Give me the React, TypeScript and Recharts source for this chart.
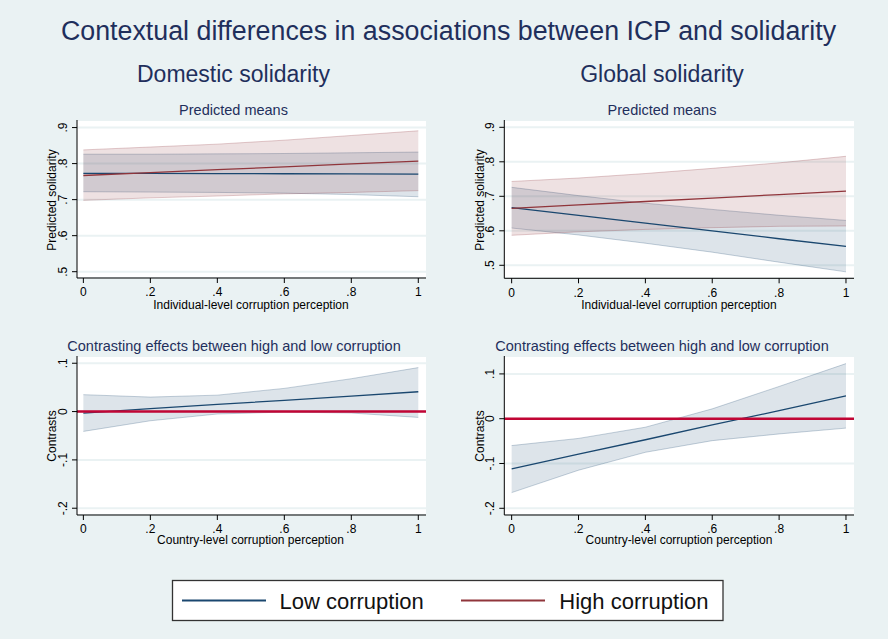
import React from 'react';
import { ComposedChart, Area, Line, XAxis, YAxis, CartesianGrid, ReferenceLine } from 'recharts';

// ---- data ----
const xValues = [0, 0.2, 0.4, 0.6, 0.8, 1];
const xTicks = [0, 0.2, 0.4, 0.6, 0.8, 1];
const meanTicks = [0.5, 0.6, 0.7, 0.8, 0.9];
const contrastTicks = [-0.2, -0.1, 0, 0.1];

// Domestic solidarity – predicted means
const domLowMean = [0.773, 0.7726, 0.7722, 0.7718, 0.7714, 0.771];
const domLowUpper = [0.826, 0.826, 0.827, 0.828, 0.83, 0.832];
const domLowLower = [0.722, 0.721, 0.72, 0.718, 0.714, 0.708];
const domHighMean = [0.767, 0.775, 0.783, 0.791, 0.799, 0.807];
const domHighUpper = [0.838, 0.846, 0.854, 0.865, 0.878, 0.891];
const domHighLower = [0.698, 0.705, 0.71, 0.716, 0.72, 0.725];

// Global solidarity – predicted means
const globLowMean = [0.667, 0.645, 0.622, 0.6, 0.577, 0.555];
const globLowUpper = [0.726, 0.702, 0.68, 0.662, 0.645, 0.63];
const globLowLower = [0.608, 0.588, 0.564, 0.538, 0.509, 0.481];
const globHighMean = [0.665, 0.675, 0.685, 0.695, 0.705, 0.715];
const globHighUpper = [0.743, 0.753, 0.766, 0.781, 0.797, 0.816];
const globHighLower = [0.587, 0.597, 0.604, 0.609, 0.613, 0.614];

// Contrasts (high - low corruption)
const domContrast = [-0.003, 0.006, 0.015, 0.023, 0.032, 0.041];
const domContrastUpper = [0.035, 0.03, 0.034, 0.048, 0.068, 0.091];
const domContrastLower = [-0.041, -0.019, -0.005, -0.001, -0.003, -0.012];
const globContrast = [-0.112, -0.079, -0.047, -0.014, 0.018, 0.051];
const globContrastUpper = [-0.06, -0.044, -0.019, 0.022, 0.072, 0.123];
const globContrastLower = [-0.165, -0.115, -0.075, -0.049, -0.034, -0.021];

const seriesNames = ['Low corruption', 'High corruption'];

// ---- styles ----
const FONT = '"Liberation Sans", Arial, Helvetica, sans-serif';
const NAVY = '#1a476f';
const MAROON = '#90353b';
const CRIMSON = '#c10534';
const BG = '#eaf2f3';
const TITLE = '#1f2f5c';

const meansData = (lm, lu, ll, hm, hu, hl) =>
  xValues.map((x, i) => ({ x, low: lm[i], lowBand: [ll[i], lu[i]], high: hm[i], highBand: [hl[i], hu[i]] }));
const contrastData = (m, u, l) => xValues.map((x, i) => ({ x, c: m[i], cBand: [l[i], u[i]] }));

const domMeans = meansData(domLowMean, domLowUpper, domLowLower, domHighMean, domHighUpper, domHighLower);
const globMeans = meansData(globLowMean, globLowUpper, globLowLower, globHighMean, globHighUpper, globHighLower);
const domContr = contrastData(domContrast, domContrastUpper, domContrastLower);
const globContr = contrastData(globContrast, globContrastUpper, globContrastLower);

const fmt = (v: number) => {
  if (Math.abs(v) < 1e-9) return '0';
  if (Math.abs(v - 1) < 1e-9) return '1';
  const s = String(Math.round(Math.abs(v) * 10) / 10).replace(/^0/, '');
  return (v < 0 ? '-' : '') + s;
};

const XTick = (props: any) => {
  const { x, y, payload } = props;
  return (
    <text x={x} y={y + 8.3} textAnchor="middle" fontSize={12} fill="#000" fontFamily={FONT}>
      {fmt(payload.value)}
    </text>
  );
};
const YTick = (props: any) => {
  const { x, y, payload } = props;
  return (
    <text x={x} y={y} transform={`rotate(-90, ${x}, ${y})`} textAnchor="middle" fontSize={12} fill="#000" fontFamily={FONT}>
      {fmt(payload.value)}
    </text>
  );
};

type PanelProps = {
  left: number; top: number; width: number; height: number;
  margin: { top: number; right: number; bottom: number; left: number };
  xDomain: [number, number]; yDomain: [number, number]; yTicks: number[];
  data: any[]; kind: 'means' | 'contrast';
};

const Panel = ({ left, top, width, height, margin, xDomain, yDomain, yTicks, data, kind }: PanelProps) => (
  <div style={{ position: 'absolute', left, top, width, height }}>
    <ComposedChart width={width} height={height} margin={margin} data={data}>
      <CartesianGrid vertical={false} stroke={BG} strokeWidth={2} fill="#ffffff" fillOpacity={1} />
      <XAxis
        dataKey="x" type="number" domain={xDomain} ticks={xTicks} allowDataOverflow
        height={30} tickSize={5} tickMargin={5} tick={<XTick />}
        axisLine={{ stroke: '#000', strokeWidth: 1 }} tickLine={{ stroke: '#000', strokeWidth: 1 }}
      />
      <YAxis
        type="number" domain={yDomain} ticks={yTicks} allowDataOverflow
        width={40} tickSize={5} tickMargin={5} tick={<YTick />}
        axisLine={{ stroke: '#000', strokeWidth: 1 }} tickLine={{ stroke: '#000', strokeWidth: 1 }}
      />
      {kind === 'means' && (
        <Area type="linear" dataKey="lowBand" fill={NAVY} fillOpacity={0.15} stroke={NAVY} strokeOpacity={0.25} strokeWidth={1} isAnimationActive={false} />
      )}
      {kind === 'means' && (
        <Area type="linear" dataKey="highBand" fill={MAROON} fillOpacity={0.15} stroke={MAROON} strokeOpacity={0.25} strokeWidth={1} isAnimationActive={false} />
      )}
      {kind === 'means' && (
        <Line type="linear" dataKey="low" stroke={NAVY} strokeWidth={1.3} dot={false} isAnimationActive={false} />
      )}
      {kind === 'means' && (
        <Line type="linear" dataKey="high" stroke={MAROON} strokeWidth={1.3} dot={false} isAnimationActive={false} />
      )}
      {kind === 'contrast' && (
        <Area type="linear" dataKey="cBand" fill={NAVY} fillOpacity={0.15} stroke={NAVY} strokeOpacity={0.25} strokeWidth={1} isAnimationActive={false} />
      )}
      {kind === 'contrast' && (
        <Line type="linear" dataKey="c" stroke={NAVY} strokeWidth={1.3} dot={false} isAnimationActive={false} />
      )}
      {kind === 'contrast' && <ReferenceLine y={0} stroke={CRIMSON} strokeWidth={2.5} />}
    </ComposedChart>
  </div>
);

const T = ({ x, y, size, color = '#000', children, rotate = false }: any) => (
  <text
    x={x} y={y} fontSize={size} fill={color} fontFamily={FONT} textAnchor="middle"
    transform={rotate ? `rotate(-90, ${x}, ${y})` : undefined}
  >
    {children}
  </text>
);

export default function App() {
  return (
    <div style={{ position: 'absolute', left: 0, top: 0, width: 888, height: 639, background: BG, overflow: 'hidden' }}>
      <Panel left={0} top={95} width={440} height={230} margin={{ top: 25, right: 14, bottom: 17, left: 37 }}
        xDomain={[-0.019, 1.023]} yDomain={[0.4825, 0.921]} yTicks={meanTicks} data={domMeans} kind="means" />
      <Panel left={440} top={95} width={448} height={230} margin={{ top: 25, right: 34, bottom: 16.7, left: 24.3 }}
        xDomain={[-0.022, 1.024]} yDomain={[0.4623, 0.9212]} yTicks={meanTicks} data={globMeans} kind="means" />
      <Panel left={0} top={330} width={440} height={225} margin={{ top: 26, right: 14, bottom: 10, left: 37 }}
        xDomain={[-0.019, 1.023]} yDomain={[-0.214, 0.115]} yTicks={contrastTicks} data={domContr} kind="contrast" />
      <Panel left={440} top={330} width={448} height={225} margin={{ top: 26, right: 34, bottom: 10, left: 24.3 }}
        xDomain={[-0.022, 1.024]} yDomain={[-0.215, 0.14]} yTicks={contrastTicks} data={globContr} kind="contrast" />

      <svg width={888} height={639} style={{ position: 'absolute', left: 0, top: 0, pointerEvents: 'none' }}>
        <T x={448.5} y={40} size={26.8} color={TITLE}>Contextual differences in associations between ICP and solidarity</T>
        <T x={233.5} y={82} size={23} color={TITLE}>Domestic solidarity</T>
        <T x={662} y={82} size={23} color={TITLE}>Global solidarity</T>

        <T x={233.5} y={115} size={14.5} color={TITLE}>Predicted means</T>
        <T x={662} y={115} size={14.5} color={TITLE}>Predicted means</T>
        <T x={234} y={351} size={14.5} color={TITLE}>Contrasting effects between high and low corruption</T>
        <T x={662} y={351} size={14.5} color={TITLE}>Contrasting effects between high and low corruption</T>

        <T x={251} y={309} size={12}>Individual-level corruption perception</T>
        <T x={679} y={309} size={12}>Individual-level corruption perception</T>
        <T x={250.5} y={544} size={12}>Country-level corruption perception</T>
        <T x={679} y={544} size={12}>Country-level corruption perception</T>

        <T x={55.5} y={200} size={12} rotate>Predicted solidarity</T>
        <T x={483.5} y={200} size={12} rotate>Predicted solidarity</T>
        <T x={55.5} y={436} size={12} rotate>Contrasts</T>
        <T x={483.5} y={436} size={12} rotate>Contrasts</T>

        <rect x={172.5} y={580.5} width={550.5} height={40} fill="#ffffff" stroke="#333" strokeWidth={1.3} />
        <line x1={182} x2={266} y1={600.5} y2={600.5} stroke={NAVY} strokeWidth={2} />
        <text x={279.5} y={609.3} fontSize={22} fill="#111" fontFamily={FONT}>{seriesNames[0]}</text>
        <line x1={461} x2={545} y1={600.5} y2={600.5} stroke={MAROON} strokeWidth={2} />
        <text x={559.3} y={609.3} fontSize={22} fill="#111" fontFamily={FONT}>{seriesNames[1]}</text>
      </svg>
    </div>
  );
}
